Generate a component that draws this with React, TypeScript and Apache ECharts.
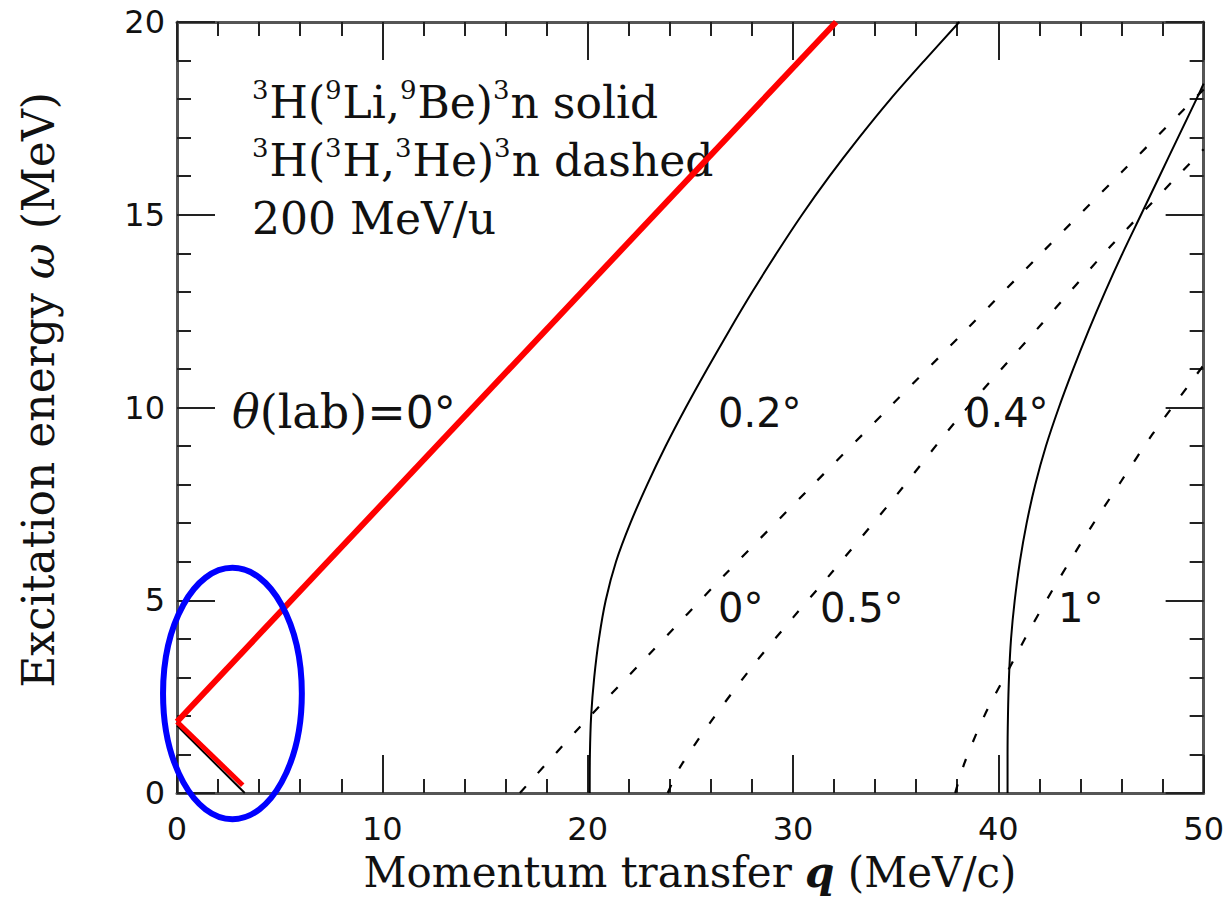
import React, { useEffect, useRef } from "react";
import * as echarts from "echarts";

// Momentum transfer q (MeV/c) vs excitation energy ω (MeV)
const xTicks = { min: 0, max: 50, interval: 10 };
const yTicks = { min: 0, max: 20, interval: 5 };

// 3H(9Li,9Be)3n kinematic curves (solid), points as [q, ω]
const solidTheta0 = [
  [0, 1.75],
  [3.3, 0],
];
const solidTheta02 = [
  [20.1, 0], [20.11, 1], [20.17, 2], [20.32, 3], [20.55, 4], [20.88, 5],
  [21.38, 6], [22.08, 7], [22.9, 8], [23.8, 9], [24.78, 10], [25.82, 11],
  [26.9, 12], [28.02, 13], [29.2, 14], [30.44, 15], [31.78, 16], [33.22, 17],
  [34.75, 18], [36.4, 19], [38.1, 20],
];
const solidTheta04 = [
  [40.45, 0], [40.45, 1], [40.47, 2], [40.52, 3], [40.62, 4], [40.8, 5],
  [41.05, 6], [41.38, 7], [41.8, 8], [42.32, 9], [42.95, 10], [43.65, 11],
  [44.4, 12], [45.2, 13], [46.05, 14], [46.95, 15], [47.85, 16], [48.75, 17],
  [49.65, 18], [50, 18.4],
];

// 3H(3H,3He)3n kinematic curves (dashed)
const dashedTheta0 = [
  [16.7, 0], [19.6, 1.7], [23.0, 3.6], [26.75, 5.7], [30.8, 7.9], [34.8, 10.06],
  [38.5, 12.05], [42.0, 13.95], [46.0, 16.1], [50, 18.25],
];
const dashedTheta05 = [
  [23.9, 0], [24.5, 0.67], [26.0, 1.85], [28.0, 3.27], [30.0, 4.55], [31.7, 5.6],
  [35.0, 7.7], [38.1, 9.75], [42.0, 12.1], [45.5, 14.2], [50, 16.7],
];
const dashedTheta1 = [
  [37.9, 0], [38.3, 0.7], [38.9, 1.5], [39.5, 2.2], [40.4, 3.1], [41.6, 4.3],
  [42.9, 5.5], [44.4, 6.8], [46.0, 8.1], [47.5, 9.3], [49.3, 10.6], [50, 11.1],
];

// Highlighted θ(lab)=0° branch in red
const redUpper = [
  [0, 1.85],
  [32.1, 20],
];
const redLower = [
  [0, 1.85],
  [3.2, 0.2],
];

// Blue ring around the low-q region: [centre q, centre ω, half-width q, half-height ω]
const ringSpec = [2.7, 2.58, 3.38, 3.26];

// Reaction legend, rich-text fragments with superscript mass numbers
const legendLines = [
  "{s|3}{t|H(}{s|9}{t|Li,}{s|9}{t|Be)}{s|3}{t|n solid}",
  "{s|3}{t|H(}{s|3}{t|H,}{s|3}{t|He)}{s|3}{t|n dashed}",
  "{t|200 MeV/u}",
];

const curveLabels = [
  { text: "0.2°", x: 718, y: 413 },
  { text: "0.4°", x: 965, y: 413 },
  { text: "0°", x: 718, y: 608 },
  { text: "0.5°", x: 820, y: 608 },
  { text: "1°", x: 1058, y: 608 },
];

const SERIF = "DejaVu Serif";
const SANS = "DejaVu Sans";
const FRAME = "#555";
const TICK = "#222";

function axisCommon(showLabel: boolean) {
  return {
    type: "value" as const,
    axisLine: { show: true, onZero: false, lineStyle: { color: FRAME, width: 3 } },
    axisTick: { show: true, inside: true, length: 38, lineStyle: { color: TICK, width: 2 } },
    minorTick: { show: true, splitNumber: 5, length: 14, lineStyle: { color: TICK, width: 2 } },
    splitLine: { show: false },
    minorSplitLine: { show: false },
    axisLabel: {
      show: showLabel,
      fontFamily: SANS,
      fontSize: 32,
      color: "#111",
    },
  };
}

function lineSeries(data: number[][], dashed: boolean, smooth: number) {
  return {
    type: "line",
    data,
    symbol: "none",
    showSymbol: false,
    smooth,
    lineStyle: { color: "#000", width: dashed ? 2.2 : 2, type: dashed ? [9, 18] : "solid" },
    z: 3,
  };
}

export default function App() {
  const ref = useRef<HTMLDivElement>(null);

  useEffect(() => {
    if (!ref.current) return;
    const chart = echarts.init(ref.current, null, { renderer: "svg" });

    const option = {
      animation: false,
      backgroundColor: "#fff",
      textStyle: { fontFamily: SERIF },
      grid: { left: 177, top: 22, right: 22, bottom: 108, containLabel: false },
      xAxis: [
        {
          ...axisCommon(true),
          ...xTicks,
          position: "bottom",
          axisLabel: { ...axisCommon(true).axisLabel, margin: 20 },
        },
        { ...axisCommon(false), ...xTicks, position: "top" },
      ],
      yAxis: [
        {
          ...axisCommon(true),
          ...yTicks,
          position: "left",
          axisLabel: { ...axisCommon(true).axisLabel, margin: 12 },
        },
        { ...axisCommon(false), ...yTicks, position: "right" },
      ],
      series: [
        lineSeries(solidTheta0, false, 0),
        lineSeries(solidTheta02, false, 0.3),
        lineSeries(solidTheta04, false, 0.3),
        lineSeries(dashedTheta0, true, 0.3),
        lineSeries(dashedTheta05, true, 0.3),
        lineSeries(dashedTheta1, true, 0.3),
        {
          type: "line",
          data: redUpper,
          symbol: "none",
          lineStyle: { color: "#ff0000", width: 6 },
          z: 6,
        },
        {
          type: "line",
          data: redLower,
          symbol: "none",
          lineStyle: { color: "#ff0000", width: 5 },
          z: 6,
        },
        {
          type: "custom",
          clip: false,
          z: 7,
          data: [ringSpec],
          renderItem: (_params: any, api: any) => {
            const c = api.coord([api.value(0), api.value(1)]);
            const s = api.size([api.value(2), api.value(3)]);
            return {
              type: "ellipse",
              shape: { cx: c[0], cy: c[1], rx: s[0], ry: s[1] },
              style: { fill: "none", stroke: "#0000ff", lineWidth: 6 },
            };
          },
        },
      ],
      graphic: [
        ...legendLines.map((t, i) => ({
          type: "text",
          x: 252,
          y: 102 + i * 58,
          style: {
            text: t,
            align: "left",
            verticalAlign: "middle",
            rich: {
              t: { fontFamily: SERIF, fontSize: 44, fill: "#111", lineHeight: 50 },
              s: {
                fontFamily: SERIF,
                fontSize: 26,
                fill: "#111",
                verticalAlign: "top",
                lineHeight: 50,
                padding: [0, 1, 22, 0],
              },
            },
          },
        })),
        {
          type: "text",
          x: 232,
          y: 412,
          style: {
            text: "{i|θ}{r|(lab)=}{s|0°}",
            verticalAlign: "middle",
            align: "left",
            rich: {
              i: { fontFamily: SERIF, fontStyle: "italic", fontSize: 46, fill: "#111" },
              r: { fontFamily: SERIF, fontSize: 46, fill: "#111" },
              s: { fontFamily: SANS, fontSize: 44, fill: "#111" },
            },
          },
        },
        ...curveLabels.map((l) => ({
          type: "text",
          x: l.x,
          y: l.y,
          style: {
            text: l.text,
            fontFamily: SANS,
            fontSize: 40,
            fill: "#111",
            align: "left",
            verticalAlign: "middle",
          },
        })),
        {
          type: "text",
          x: 690,
          y: 872,
          style: {
            text: "{r|Momentum transfer }{i|q}{r| (MeV/c)}",
            align: "center",
            verticalAlign: "middle",
            rich: {
              r: { fontFamily: SERIF, fontSize: 42, fill: "#111", lineHeight: 46 },
              i: { fontFamily: SERIF, fontStyle: "italic", fontWeight: "bold", fontSize: 42, fill: "#111", lineHeight: 46 },
            },
          },
        },
        {
          type: "text",
          x: 38,
          y: 390,
          rotation: Math.PI / 2,
          style: {
            text: "{r|Excitation energy }{i|ω}{r| (MeV)}",
            align: "center",
            verticalAlign: "middle",
            rich: {
              r: { fontFamily: SERIF, fontSize: 44, fill: "#111" },
              i: { fontFamily: SERIF, fontStyle: "italic", fontSize: 44, fill: "#111" },
            },
          },
        },
      ],
    };

    chart.setOption(option as any);
    return () => chart.dispose();
  }, []);

  return (
    <div
      ref={ref}
      style={{ position: "fixed", left: 0, top: 0, width: 1227, height: 901, background: "#fff" }}
    />
  );
}
